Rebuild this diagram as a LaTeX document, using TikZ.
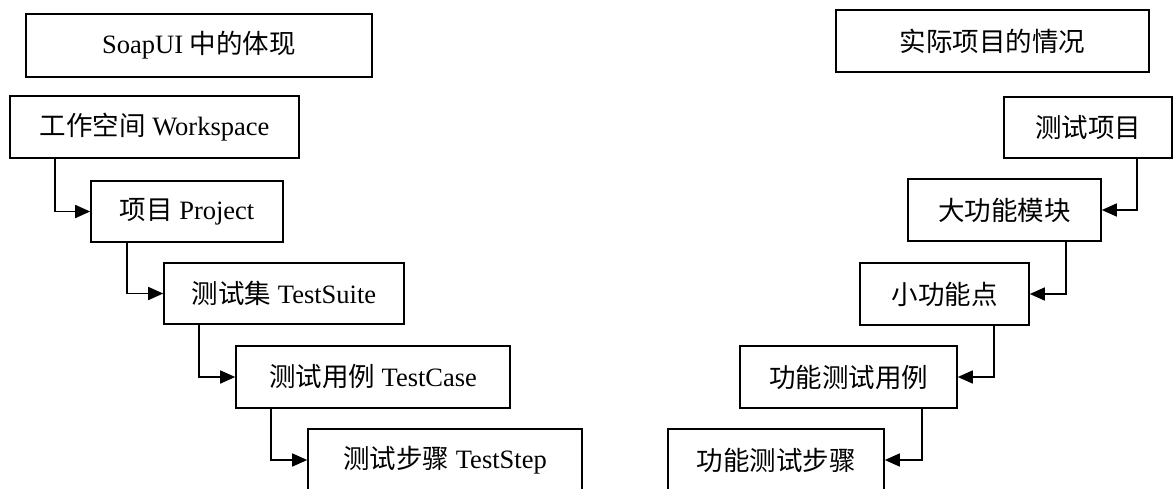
\documentclass[tikz,border=0pt]{standalone}
\usepackage{fontspec}
\setmainfont{Liberation Serif}
\newfontfamily\cjk{Noto Sans CJK SC}
\usetikzlibrary{arrows.meta}

\begin{document}
\begin{tikzpicture}[x=1pt,y=-1pt,>={Triangle[length=15pt,width=13pt]},
    box/.style={draw, line width=1.6pt, inner sep=0pt, font=\fontsize{26.5}{30}\selectfont},
    link/.style={line width=1.6pt, ->}]
        \clip (0,0) rectangle (1173,488);
        % left side
        \node[box, minimum width=346, minimum height=63] (soap) at (199,45.5) {SoapUI {\cjk 中的体现}};
        \node[box, minimum width=289, minimum height=62] (ws) at (154.5,127) {{\cjk 工作空间} Workspace};
        \node[box, minimum width=192, minimum height=61] (proj) at (187,211.5) {{\cjk 项目} Project};
        \node[box, minimum width=240, minimum height=61] (suite) at (284,293.5) {{\cjk 测试集} TestSuite};
        \node[box, minimum width=274, minimum height=62] (case) at (373,377) {{\cjk 测试用例} TestCase};
        \node[box, minimum width=274, minimum height=62] (step) at (445,460) {{\cjk 测试步骤} TestStep};
        \foreach \a/\b/\s in {ws/proj/46, proj/suite/37, suite/case/36, case/step/36}
            \draw[link] ([xshift=\s]\a.south west) |- (\b.west);
        % right side
        \node[box, minimum width=313, minimum height=62] (real) at (992.5,41) {\cjk 实际项目的情况};
        \node[box, minimum width=168, minimum height=61] (tproj) at (1088,127.5) {\cjk 测试项目};
        \node[box, minimum width=193, minimum height=62] (bigmod) at (1004.5,210) {\cjk 大功能模块};
        \node[box, minimum width=169, minimum height=62] (point) at (944.5,294) {\cjk 小功能点};
        \node[box, minimum width=217, minimum height=62] (fcase) at (848.5,377) {\cjk 功能测试用例};
        \node[box, minimum width=216, minimum height=62] (fstep) at (776,460) {\cjk 功能测试步骤};
        \foreach \a/\b in {tproj/bigmod, bigmod/point, point/fcase, fcase/fstep}
            \draw[link] ([xshift=-36]\a.south east) |- (\b.east);
\end{tikzpicture}
\end{document}
